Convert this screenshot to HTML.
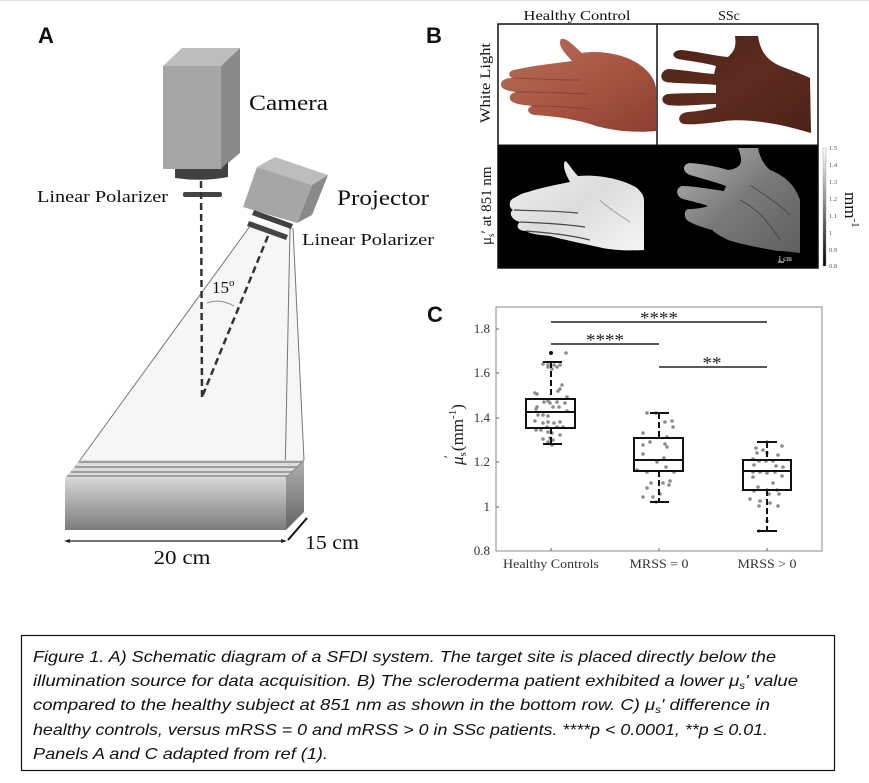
<!DOCTYPE html>
<html><head><meta charset="utf-8"><style>
html,body{margin:0;padding:0;background:#fff;}
svg{display:block;}
.serif{font-family:"Liberation Serif",serif;}
.sans{font-family:"Liberation Sans",sans-serif;}
</style></head><body>
<svg width="869" height="783" viewBox="0 0 869 783" xmlns="http://www.w3.org/2000/svg">
<defs>
<linearGradient id="front" x1="0" y1="0" x2="0" y2="1"><stop offset="0" stop-color="#d6d6d6"/><stop offset="1" stop-color="#7c7c7c"/></linearGradient>
<linearGradient id="side" x1="0" y1="0" x2="0" y2="1"><stop offset="0" stop-color="#b0b0b0"/><stop offset="1" stop-color="#656565"/></linearGradient>
<linearGradient id="cbar" x1="0" y1="0" x2="0" y2="1"><stop offset="0" stop-color="#fff"/><stop offset="1" stop-color="#000"/></linearGradient>
<linearGradient id="skin1" x1="0" y1="0" x2="1" y2="1"><stop offset="0" stop-color="#b8705a"/><stop offset="0.6" stop-color="#a4523f"/><stop offset="1" stop-color="#8a3f30"/></linearGradient>
<linearGradient id="skin2" x1="0" y1="0" x2="1" y2="1"><stop offset="0" stop-color="#4a2219"/><stop offset="0.5" stop-color="#5e2b1f"/><stop offset="1" stop-color="#4c2219"/></linearGradient>
<linearGradient id="mu1" x1="0" y1="0" x2="1" y2="1"><stop offset="0" stop-color="#f2f2f2"/><stop offset="0.5" stop-color="#dcdcdc"/><stop offset="1" stop-color="#f5f5f5"/></linearGradient>
<linearGradient id="mu2" x1="0" y1="0" x2="1" y2="1"><stop offset="0" stop-color="#b5b5b5"/><stop offset="0.5" stop-color="#7a7a7a"/><stop offset="1" stop-color="#5e5e5e"/></linearGradient>
</defs>
<rect width="869" height="783" fill="#fff"/>
<line x1="0" y1="0.5" x2="869" y2="0.5" stroke="#e0e0e0"/>

<!-- ===== Panel A ===== -->
<text x="38" y="43" class="sans" font-weight="bold" font-size="22" fill="#111">A</text>

<!-- Camera -->
<polygon points="163,66 182,48 240,48 221,66" fill="#bdbdbd"/>
<polygon points="221,66 240,48 240,153 221,169" fill="#8a8a8a"/>
<rect x="163" y="66" width="58" height="103" fill="#a6a6a6"/>
<path d="M175,169 L221,169 L228,162 L228,177 Q202,182 175,178 Z" fill="#404040"/>
<rect x="183" y="192" width="39" height="5" rx="2" fill="#444"/>
<text x="249" y="110" class="serif" font-size="22" fill="#111" textLength="79" lengthAdjust="spacingAndGlyphs">Camera</text>
<text x="37" y="202" class="serif" font-size="17" fill="#111" textLength="131" lengthAdjust="spacingAndGlyphs">Linear Polarizer</text>

<!-- Light cone -->
<polygon points="253,222 293,228 304,460 286,478 67,478" fill="#f6f6f6"/>
<line x1="253" y1="222" x2="67" y2="478" stroke="#777" stroke-width="1"/>
<line x1="290" y1="228" x2="285" y2="478" stroke="#777" stroke-width="1"/>
<line x1="293" y1="228" x2="304" y2="460" stroke="#777" stroke-width="1"/>

<!-- Projector -->
<polygon points="257,167 275,157 328,175 312,185" fill="#bdbdbd"/>
<polygon points="312,185 328,175 312,215 297,223" fill="#8a8a8a"/>
<polygon points="257,167 312,185 297,223 243,207" fill="#a6a6a6"/>
<polygon points="254,210 293,224 291,229 252,215" fill="#404040"/>
<polygon points="249,221 288,235 286,240 247,226" fill="#444"/>
<text x="337" y="205" class="serif" font-size="22" fill="#111" textLength="92" lengthAdjust="spacingAndGlyphs">Projector</text>
<text x="302" y="245" class="serif" font-size="17" fill="#111" textLength="132" lengthAdjust="spacingAndGlyphs">Linear Polarizer</text>

<!-- dashed beams -->
<line x1="201" y1="181" x2="202" y2="397" stroke="#333" stroke-width="2.5" stroke-dasharray="7,4"/>
<line x1="268" y1="236" x2="202" y2="397" stroke="#333" stroke-width="2.5" stroke-dasharray="7,4"/>
<path d="M207,303 Q220,298 234,306" fill="none" stroke="#888" stroke-width="1"/>
<text x="212" y="293" class="serif" font-size="17" fill="#111">15<tspan font-size="11" dy="-7">o</tspan></text>

<!-- Slab -->
<polygon points="65,478 80,460 304,460 286,478" fill="#dcdcdc"/>
<g stroke="#8a8a8a" stroke-width="1.4">
<line x1="79" y1="462" x2="302" y2="462"/>
<line x1="75" y1="467" x2="297" y2="467"/>
<line x1="71" y1="472" x2="292" y2="472"/>
<line x1="67" y1="476" x2="288" y2="476"/>
</g>
<rect x="65" y="478" width="221" height="52" fill="url(#front)"/>
<polygon points="286,478 304,460 304,512 286,530" fill="url(#side)"/>
<line x1="286" y1="478" x2="304" y2="460" stroke="#888" stroke-width="1"/>

<!-- dimensions -->
<line x1="66" y1="541" x2="285" y2="541" stroke="#222" stroke-width="1.3"/>
<polygon points="64,541 70,539 70,543" fill="#222"/>
<polygon points="287,541 281,539 281,543" fill="#222"/>
<text x="182" y="564" class="serif" font-size="20" fill="#111" text-anchor="middle" textLength="57" lengthAdjust="spacingAndGlyphs">20 cm</text>
<line x1="288" y1="540" x2="307" y2="518" stroke="#111" stroke-width="2"/>
<text x="305" y="549" class="serif" font-size="20" fill="#111" textLength="54" lengthAdjust="spacingAndGlyphs">15 cm</text>

<!-- ===== Panel B ===== -->
<text x="426" y="43" class="sans" font-weight="bold" font-size="22" fill="#111">B</text>
<text x="577" y="20" class="serif" font-size="14" fill="#111" text-anchor="middle" textLength="107" lengthAdjust="spacingAndGlyphs">Healthy Control</text>
<text x="729" y="20" class="serif" font-size="14" fill="#111" text-anchor="middle">SSc</text>

<text transform="translate(490,123) rotate(-90)" class="serif" font-size="15" fill="#111" textLength="80" lengthAdjust="spacingAndGlyphs">White Light</text>
<text transform="translate(491,245) rotate(-90)" class="serif" font-size="15" fill="#111">μ<tspan font-size="9" dy="3">s</tspan><tspan dy="-3">′ at 851 nm</tspan></text>

<!-- top row -->
<rect x="498" y="24" width="320" height="121" fill="#fff"/>
<!-- healthy hand -->
<path d="M561,39 C566,37 574,46 582,53 C600,50 625,54 640,65 C650,72 655,80 656,88 L656,131 C635,133 610,131 590,124 C570,118 550,116 535,115 C527,114 526,108 532,106 C524,105 511,104 510,99 C509,95 512,93 516,92 C508,91 501,89 501,85 C501,80 506,78 512,78 C508,76 508,71 514,70 C530,66 550,64 572,61 C566,54 557,46 561,39 Z" fill="url(#skin1)"/>
<g stroke="#7a3528" stroke-width="1" opacity="0.6" fill="none">
<path d="M514,78 C540,79 560,80 580,80"/>
<path d="M516,92 C545,92 565,93 588,94"/>
<path d="M532,106 C555,106 570,107 590,109"/>
</g>
<!-- SSc hand -->
<path d="M735,36 L758,36 C760,48 764,58 778,65 C790,70 802,74 810,78 L811,133 C800,130 790,127 780,125 C760,121 740,119 725,121 C710,123 695,125 684,124 C677,123 677,113 688,112 C700,111 712,109 716,107 L716,104 C705,104 680,107 668,105 C660,103 661,95 668,94 C685,93 703,93 716,93 L716,85 C700,83 680,84 666,82 C659,80 660,71 668,69 C685,70 700,73 714,74 L716,66 C705,63 690,61 678,59 C670,56 673,50 682,50 C700,52 715,56 728,57 C736,50 736,44 735,36 Z" fill="url(#skin2)"/>

<!-- bottom row -->
<rect x="498" y="145" width="320" height="123" fill="#000"/>
<path d="M565,161 C568,162 572,170 578,176 C600,174 625,180 637,188 C642,193 644,196 644,200 L644,250 C625,251 610,250 598,247 C580,243 565,240 550,236 C540,235 530,234 526,231 C518,231 515,226 520,222 C512,220 508,213 513,210 C508,207 509,200 514,198 C518,196 522,193 528,192 C540,188 555,185 570,182 C566,175 562,166 565,161 Z" fill="url(#mu1)"/>
<g stroke="#222" stroke-width="1.2" fill="none" opacity="0.8">
<path d="M514,210 C540,211 560,211 578,213"/>
<path d="M520,222 C545,223 565,224 585,227"/>
<path d="M526,231 C550,233 570,235 590,240"/>
<path d="M600,200 C610,210 620,215 630,222" opacity="0.4"/>
</g>
<path d="M738,148 L758,148 C760,158 764,165 770,170 C785,176 795,185 800,200 L800,253 C790,252 785,251 778,251 C760,248 740,244 728,240 C720,236 715,233 712,230 C705,228 695,225 690,222 C684,220 683,211 688,209 C695,209 703,208 708,206 C700,203 690,201 683,199 C676,197 675,188 682,186 C692,186 710,189 724,191 L726,186 C715,182 700,178 690,175 C682,172 682,164 690,163 C705,164 718,167 728,170 C745,168 742,158 738,148 Z" fill="url(#mu2)"/>
<g stroke="#333" stroke-width="1" fill="none" opacity="0.6">
<path d="M740,200 C760,210 770,225 780,240"/>
<path d="M750,185 C765,195 780,205 790,215"/>
</g>
<text x="778" y="261" class="serif" font-size="7" fill="#fff">1 cm</text>
<line x1="778" y1="262" x2="784" y2="262" stroke="#fff" stroke-width="1"/>

<!-- grid borders -->
<rect x="498" y="24" width="320" height="244" fill="none" stroke="#111" stroke-width="1.5"/>
<line x1="657" y1="24" x2="657" y2="145" stroke="#111" stroke-width="1.5"/>
<line x1="498" y1="145" x2="818" y2="145" stroke="#111" stroke-width="1"/>

<!-- colorbar -->
<rect x="823" y="148" width="3" height="118" fill="url(#cbar)" stroke="#999" stroke-width="0.4"/>
<g class="serif" font-size="6.5" fill="#555">
<text x="829" y="150">1.5</text>
<text x="829" y="167">1.4</text>
<text x="829" y="184">1.3</text>
<text x="829" y="201">1.2</text>
<text x="829" y="218">1.1</text>
<text x="829" y="235">1</text>
<text x="829" y="252">0.9</text>
<text x="829" y="268">0.8</text>
</g>
<text transform="translate(845,192) rotate(90)" class="serif" font-size="17" fill="#111">mm<tspan font-size="11" dy="-7">-1</tspan></text>

<!-- ===== Panel C ===== -->
<text x="427" y="322" class="sans" font-weight="bold" font-size="22" fill="#111">C</text>
<rect x="496" y="307" width="326" height="244" fill="#fff" stroke="#8a8a8a" stroke-width="1"/>
<!-- ticks -->
<g stroke="#666" stroke-width="1">
<line x1="496" y1="329" x2="499" y2="329"/><line x1="496" y1="373" x2="499" y2="373"/>
<line x1="496" y1="418" x2="499" y2="418"/><line x1="496" y1="462" x2="499" y2="462"/>
<line x1="496" y1="507" x2="499" y2="507"/>
<line x1="551" y1="551" x2="551" y2="548"/><line x1="659" y1="551" x2="659" y2="548"/><line x1="767" y1="551" x2="767" y2="548"/>
</g>
<g class="serif" font-size="13" fill="#333" text-anchor="end">
<text x="490" y="333">1.8</text>
<text x="490" y="377">1.6</text>
<text x="490" y="422">1.4</text>
<text x="490" y="466">1.2</text>
<text x="490" y="511">1</text>
<text x="490" y="555">0.8</text>
</g>
<g class="serif" font-size="13" fill="#333" text-anchor="middle">
<text x="551" y="568" textLength="96" lengthAdjust="spacingAndGlyphs">Healthy Controls</text>
<text x="659" y="568" textLength="59" lengthAdjust="spacingAndGlyphs">MRSS = 0</text>
<text x="767" y="568" textLength="59" lengthAdjust="spacingAndGlyphs">MRSS &gt; 0</text>
</g>
<text transform="translate(463,465) rotate(-90)" class="serif" font-size="17" fill="#222"><tspan font-style="italic">μ</tspan><tspan font-size="11" dy="3">s</tspan><tspan font-size="13" dx="-6" dy="-13">′</tspan><tspan dy="10"> (mm</tspan><tspan font-size="11" dy="-7">-1</tspan><tspan dy="7">)</tspan></text>

<!-- significance -->
<g stroke="#222" stroke-width="1.5">
<line x1="551" y1="322" x2="767" y2="322"/>
<line x1="551" y1="344" x2="659" y2="344"/>
<line x1="659" y1="367" x2="767" y2="367"/>
</g>
<g class="serif" font-size="18" fill="#222" text-anchor="middle">
<text x="659" y="324" textLength="38" lengthAdjust="spacingAndGlyphs">****</text>
<text x="605" y="346" textLength="38" lengthAdjust="spacingAndGlyphs">****</text>
<text x="712" y="369" textLength="19" lengthAdjust="spacingAndGlyphs">**</text>
</g>

<!-- scatter dots -->
<g fill="#8c8c8c">
<circle cx="566" cy="353" r="1.8"/><circle cx="543" cy="364" r="1.8"/><circle cx="548" cy="365" r="1.8"/><circle cx="554" cy="365" r="1.8"/><circle cx="560" cy="365" r="1.8"/><circle cx="548" cy="367" r="1.8"/><circle cx="557" cy="367" r="1.8"/><circle cx="552" cy="369" r="1.8"/><circle cx="562" cy="385" r="1.8"/><circle cx="560" cy="389" r="1.8"/><circle cx="558" cy="391" r="1.8"/><circle cx="535" cy="393" r="1.8"/><circle cx="537" cy="394" r="1.8"/><circle cx="567" cy="397" r="1.8"/><circle cx="544" cy="402" r="1.8"/><circle cx="548" cy="401" r="1.8"/><circle cx="550" cy="403" r="1.8"/><circle cx="557" cy="402" r="1.8"/><circle cx="537" cy="407" r="1.8"/><circle cx="536" cy="409" r="1.8"/><circle cx="553" cy="407" r="1.8"/><circle cx="559" cy="407" r="1.8"/><circle cx="565" cy="403" r="1.8"/><circle cx="567" cy="411" r="1.8"/><circle cx="543" cy="415" r="1.8"/><circle cx="548" cy="416" r="1.8"/><circle cx="538" cy="415" r="1.8"/><circle cx="535" cy="421" r="1.8"/><circle cx="543" cy="423" r="1.8"/><circle cx="548" cy="422" r="1.8"/><circle cx="554" cy="423" r="1.8"/><circle cx="560" cy="422" r="1.8"/><circle cx="547" cy="427" r="1.8"/><circle cx="557" cy="427" r="1.8"/><circle cx="563" cy="427" r="1.8"/><circle cx="541" cy="430" r="1.8"/><circle cx="548" cy="432" r="1.8"/><circle cx="552" cy="433" r="1.8"/><circle cx="560" cy="435" r="1.8"/><circle cx="543" cy="439" r="1.8"/><circle cx="550" cy="438" r="1.8"/><circle cx="553" cy="440" r="1.8"/><circle cx="548" cy="442" r="1.8"/><circle cx="552" cy="445" r="1.8"/><circle cx="536" cy="430" r="1.8"/>
<circle cx="656" cy="413" r="1.8"/><circle cx="647" cy="413" r="1.8"/><circle cx="665" cy="422" r="1.8"/><circle cx="672" cy="421" r="1.8"/><circle cx="673" cy="427" r="1.8"/><circle cx="643" cy="433" r="1.8"/><circle cx="667" cy="437" r="1.8"/><circle cx="650" cy="442" r="1.8"/><circle cx="643" cy="445" r="1.8"/><circle cx="665" cy="444" r="1.8"/><circle cx="667" cy="447" r="1.8"/><circle cx="643" cy="454" r="1.8"/><circle cx="664" cy="458" r="1.8"/><circle cx="657" cy="462" r="1.8"/><circle cx="637" cy="470" r="1.8"/><circle cx="647" cy="472" r="1.8"/><circle cx="666" cy="467" r="1.8"/><circle cx="674" cy="472" r="1.8"/><circle cx="651" cy="483" r="1.8"/><circle cx="663" cy="483" r="1.8"/><circle cx="670" cy="481" r="1.8"/><circle cx="647" cy="488" r="1.8"/><circle cx="669" cy="485" r="1.8"/><circle cx="643" cy="497" r="1.8"/><circle cx="653" cy="497" r="1.8"/><circle cx="656" cy="502" r="1.8"/><circle cx="660" cy="494" r="1.8"/>
<circle cx="767" cy="442" r="1.8"/><circle cx="756" cy="448" r="1.8"/><circle cx="763" cy="450" r="1.8"/><circle cx="782" cy="446" r="1.8"/><circle cx="757" cy="453" r="1.8"/><circle cx="767" cy="453" r="1.8"/><circle cx="778" cy="455" r="1.8"/><circle cx="753" cy="459" r="1.8"/><circle cx="759" cy="461" r="1.8"/><circle cx="766" cy="461" r="1.8"/><circle cx="773" cy="461" r="1.8"/><circle cx="776" cy="466" r="1.8"/><circle cx="754" cy="465" r="1.8"/><circle cx="783" cy="467" r="1.8"/><circle cx="753" cy="472" r="1.8"/><circle cx="760" cy="472" r="1.8"/><circle cx="767" cy="473" r="1.8"/><circle cx="775" cy="472" r="1.8"/><circle cx="753" cy="477" r="1.8"/><circle cx="782" cy="476" r="1.8"/><circle cx="773" cy="483" r="1.8"/><circle cx="758" cy="487" r="1.8"/><circle cx="754" cy="491" r="1.8"/><circle cx="767" cy="490" r="1.8"/><circle cx="777" cy="490" r="1.8"/><circle cx="769" cy="494" r="1.8"/><circle cx="779" cy="494" r="1.8"/><circle cx="750" cy="499" r="1.8"/><circle cx="760" cy="501" r="1.8"/><circle cx="770" cy="503" r="1.8"/><circle cx="759" cy="506" r="1.8"/><circle cx="778" cy="506" r="1.8"/><circle cx="767" cy="521" r="1.8"/><circle cx="759" cy="531" r="1.8"/>
</g>

<!-- boxplots -->
<g stroke="#111" fill="none">
<!-- HC -->
<line x1="551" y1="362" x2="551" y2="399" stroke-width="2" stroke-dasharray="6,3"/>
<line x1="551" y1="428" x2="551" y2="444" stroke-width="2" stroke-dasharray="6,3"/>
<line x1="543" y1="362" x2="562" y2="362" stroke-width="2"/>
<line x1="543" y1="444" x2="562" y2="444" stroke-width="2"/>
<rect x="526" y="399" width="49" height="29" stroke-width="2"/>
<line x1="526" y1="412" x2="575" y2="412" stroke-width="2"/>
<!-- MRSS=0 -->
<line x1="659" y1="413" x2="659" y2="438" stroke-width="2" stroke-dasharray="6,3"/>
<line x1="659" y1="471" x2="659" y2="502" stroke-width="2" stroke-dasharray="6,3"/>
<line x1="650" y1="413" x2="669" y2="413" stroke-width="2"/>
<line x1="650" y1="502" x2="669" y2="502" stroke-width="2"/>
<rect x="634" y="438" width="49" height="33" stroke-width="2"/>
<line x1="634" y1="460" x2="683" y2="460" stroke-width="2"/>
<!-- MRSS>0 -->
<line x1="767" y1="442" x2="767" y2="460" stroke-width="2" stroke-dasharray="6,3"/>
<line x1="767" y1="490" x2="767" y2="531" stroke-width="2" stroke-dasharray="6,3"/>
<line x1="757" y1="442" x2="777" y2="442" stroke-width="2"/>
<line x1="757" y1="531" x2="777" y2="531" stroke-width="2"/>
<rect x="743" y="460" width="48" height="30" stroke-width="2"/>
<line x1="743" y1="471" x2="791" y2="471" stroke-width="2"/>
</g>
<circle cx="551" cy="353" r="2" fill="#111"/>

<!-- ===== Caption ===== -->
<rect x="21.5" y="635.5" width="813" height="135" fill="#fff" stroke="#111" stroke-width="1.2"/>
<g class="sans" font-style="italic" font-size="16" fill="#111">
<text x="33" y="662" textLength="743" lengthAdjust="spacingAndGlyphs">Figure 1. A) Schematic diagram of a SFDI system. The target site is placed directly below the</text>
<text x="33" y="686" textLength="765" lengthAdjust="spacingAndGlyphs">illumination source for data acquisition. B) The scleroderma patient exhibited a lower μ<tspan font-size="10" dy="3">s</tspan><tspan dy="-3">' value</tspan></text>
<text x="33" y="710" textLength="737" lengthAdjust="spacingAndGlyphs">compared to the healthy subject at 851 nm as shown in the bottom row. C) μ<tspan font-size="10" dy="3">s</tspan><tspan dy="-3">' difference in</tspan></text>
<text x="33" y="735" textLength="735" lengthAdjust="spacingAndGlyphs">healthy controls, versus mRSS = 0 and mRSS &gt; 0 in SSc patients. ****p &lt; 0.0001, **p ≤ 0.01.</text>
<text x="33" y="759" textLength="295" lengthAdjust="spacingAndGlyphs">Panels A and C adapted from ref (1).</text>
</g>
</svg>
</body></html>
